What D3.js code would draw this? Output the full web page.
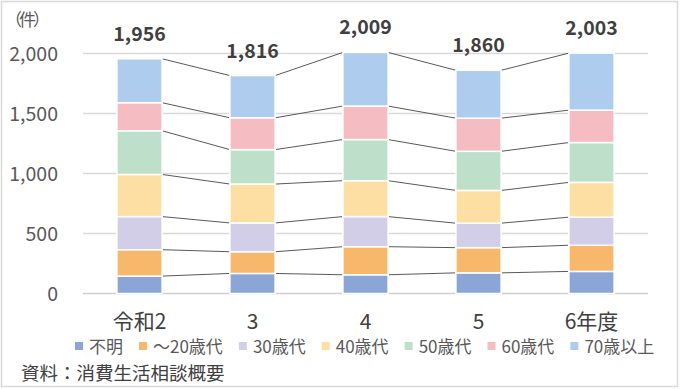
<!DOCTYPE html>
<html><head><meta charset="utf-8">
<script src="https://cdn.jsdelivr.net/npm/d3@7"></script>
<style>
body{margin:0;background:#fff;}
text{font-family:"Noto Sans CJK JP","Noto Sans",sans-serif;}
</style></head><body>
<svg id="c" width="680" height="390"></svg>
<script>
const categories = ["令和2","3","4","5","6年度"];
const seriesNames = ["不明","～20歳代","30歳代","40歳代","50歳代","60歳代","70歳以上"];
const colors = ["#8AA5D6","#F8B86C","#D3CEE8","#FEDFA3","#BEE0CB","#F5BDC1","#AECDEE"];
const unknown = [145,167,156,172,184];
const age20 = [220,181,234,210,218];
const age30 = [276,240,251,204,234];
const age40 = [351,324,299,273,290];
const age50 = [364,287,343,326,332];
const age60 = [234,265,279,276,270];
const age70 = [366,352,447,399,475];
const totals = [1956,1816,2009,1860,2003];
const yTicks = [0,500,1000,1500,2000];

const seriesVals = [unknown,age20,age30,age40,age50,age60,age70];
const table = categories.map((c,i)=>{const o={cat:c};seriesNames.forEach((s,j)=>o[s]=seriesVals[j][i]);return o;});
const stack = d3.stack().keys(seriesNames)(table);

const svg = d3.select("#c");
svg.append("rect").attr("x",1.5).attr("y",1.5).attr("width",676).attr("height",385)
  .attr("fill","#fff").attr("stroke","#D9D9D9").attr("stroke-width",1.5);

const x = d3.scaleBand().domain(categories).range([83,648]).paddingInner(0.6).paddingOuter(0.3);
const y = d3.scaleLinear().domain([0,2000]).range([293.5,53.5]);

// gridlines
svg.append("g").selectAll("line").data(yTicks).join("line")
  .attr("x1",83).attr("x2",648).attr("y1",d=>y(d)).attr("y2",d=>y(d))
  .attr("stroke",d=>d===0?"#D0D0D0":"#D9D9D9").attr("stroke-width",1.5);

// y axis labels
const yAxis = d3.axisLeft(y).tickValues(yTicks).tickSize(0).tickPadding(0).tickFormat(d3.format(","));
const ga = svg.append("g").attr("transform","translate(58,0)").call(yAxis);
ga.select(".domain").remove();
ga.selectAll("text").attr("font-size",19.5).attr("fill","#595959").attr("dy","0.35em")
  .style("font-family","'Noto Sans CJK JP',sans-serif");

svg.append("text").attr("x",5).attr("y",26).attr("font-size",17).attr("letter-spacing",-3).attr("fill","#595959").text("（件）");

// series lines
const bw = x.bandwidth();
stack.forEach((s)=>{
  for(let i=0;i<categories.length-1;i++){
    svg.append("line")
      .attr("x1",x(categories[i])+bw).attr("y1",y(s[i][1]))
      .attr("x2",x(categories[i+1])).attr("y2",y(s[i+1][1]))
      .attr("stroke","#595959").attr("stroke-width",1);
  }
});

// bars
svg.append("g").selectAll("g").data(stack).join("g").attr("fill",(d,i)=>colors[i])
  .selectAll("rect").data(d=>d).join("rect")
  .attr("x",d=>x(d.data.cat)).attr("width",bw)
  .attr("y",d=>y(d[1])).attr("height",d=>y(d[0])-y(d[1]))
  .attr("stroke","#fff").attr("stroke-width",1.5);

// totals
svg.append("g").selectAll("text").data(totals).join("text")
  .attr("x",(d,i)=>x(categories[i])+bw/2).attr("y",d=>y(d)-18)
  .attr("text-anchor","middle").attr("font-size",19.5).attr("font-weight","bold").attr("fill","#404040")
  .text(d3.format(","));

// x labels
svg.append("g").selectAll("text").data(categories).join("text")
  .attr("x",d=>x(d)+bw/2).attr("y",329).attr("text-anchor","middle")
  .attr("font-size",21).attr("fill","#404040").text(d=>d);

// legend
const lg = svg.append("g");
let lx = 75;
seriesNames.forEach((n,i)=>{
  lg.append("rect").attr("x",lx).attr("y",342).attr("width",8).attr("height",8).attr("fill",colors[i]);
  const t = lg.append("text").attr("x",lx+14).attr("y",352.5).attr("font-size",17).attr("fill","#595959").text(n);
  lx += 14 + t.node().getComputedTextLength() + 16;
});

svg.append("text").attr("x",21).attr("y",380).attr("font-size",18.5).attr("fill","#404040").text("資料：消費生活相談概要");
</script>
</body></html>
